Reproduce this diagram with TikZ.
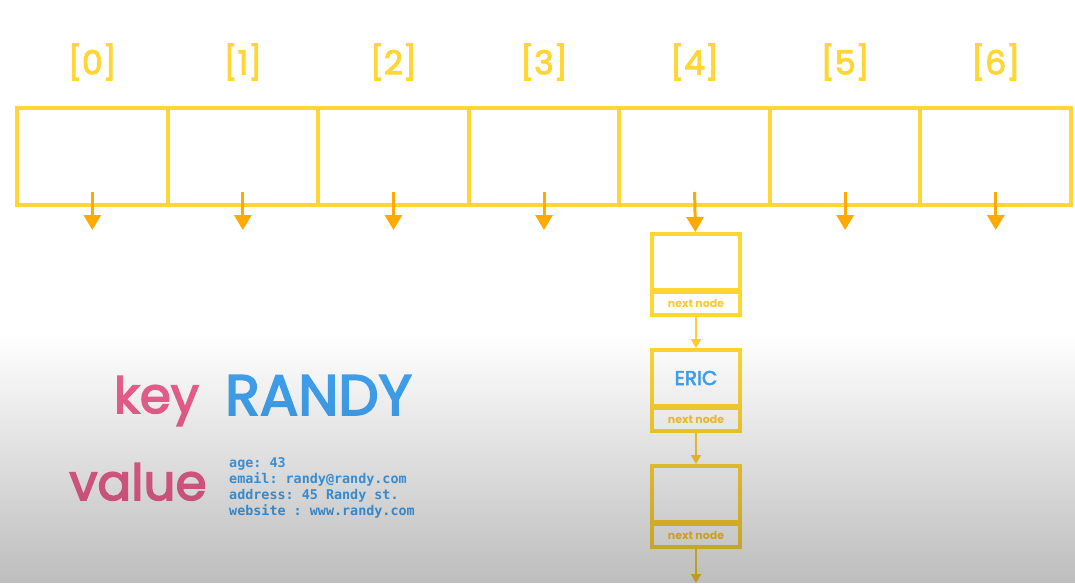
\documentclass[tikz,border=0pt]{standalone}
\usepackage{fontspec}
\setmainfont{Poppins}
\setmonofont{DejaVu Sans Mono}
\newfontfamily\roundfont{Poppins}[FakeBold=3]
\usepackage{tikz}
\usetikzlibrary{positioning}
\usetikzlibrary{arrows.meta}
\usetikzlibrary{fadings}
\definecolor{slot_yellow}{HTML}{FFD633}
\definecolor{ptr_orange}{HTML}{FFAA00}
\definecolor{key_pink}{HTML}{F06292}
\definecolor{key_blue}{HTML}{42A5F5}
\tikzset{my_table/.style={x=1pt,y=-1pt}}
\tikzset{my_slot/.style={draw=slot_yellow, line width=4pt, minimum width=150.57pt, minimum height=97pt, inner sep=0pt}}
\tikzset{my_index/.style={text=slot_yellow, font=\roundfont\fontsize{33}{33}\selectfont, inner sep=0pt}}
\tikzset{my_pointer/.style={draw=ptr_orange, line width=3pt, -{Triangle[width=17pt,length=15pt]}}}
\tikzset{my_data/.style={draw=slot_yellow, line width=4pt, minimum width=88pt, minimum height=56pt, inner sep=0pt}}
\tikzset{my_next/.style={draw=slot_yellow, line width=4pt, minimum width=88pt, minimum height=23pt, inner sep=0pt, text=slot_yellow!85!orange, font=\bfseries\fontsize{11}{11}\selectfont}}
\tikzset{my_link/.style={draw=slot_yellow!90!orange, line width=2pt, -{Triangle[width=10pt,length=9pt]}}}
\tikzfading[name=fade down, top color=transparent!100, bottom color=transparent!0]

\begin{document}
\begin{tikzpicture}[my_table]
    \useasboundingbox (0,0) rectangle (1075,583);
    \fill[white] (0,0) rectangle (1075,583);
    %\draw[help lines, step=50] (0,0) grid (1075,583);
    \foreach \i in {0,...,6} {
        \node[my_slot] (c\i) at ({92.3+150.57*\i},156.5) {};
        \node[my_index] (l\i) at ({92.3+150.57*\i},62) {[\i]};
        \coordinate (t\i) at ({92.3+150.57*\i},230);
    }
    \foreach \i in {0,1,2,3,5,6}
        \draw[my_pointer] ([yshift=15pt]c\i.south) -- (t\i);

    \node[my_data] (d1) at (696,262) {};
    \node[my_next, below=-2pt of d1] (n1) {next node};
    \node[my_data, below=31pt of n1, text=key_blue, font=\roundfont\fontsize{20}{20}\selectfont] (d2) {ERIC};
    \node[my_next, below=-2pt of d2] (n2) {next node};
    \node[my_data, below=31pt of n2] (d3) {};
    \node[my_next, below=-2pt of d3] (n3) {next node};
    \coordinate[below=34pt of n3] (tail);

    \draw[my_pointer] ([yshift=15pt]c4.south) -- (d1);
    \draw[my_link] (n1) -- (d2);
    \draw[my_link] (n2) -- (d3);
    \draw[my_link] (n3) -- (tail);

    \node[anchor=base, inner sep=0pt, text=key_pink, font=\roundfont\fontsize{50}{50}\selectfont] (key) at (156.5,413) {key};
    \node[anchor=base west, inner sep=0pt, text=key_blue, font=\roundfont\fontsize{57}{57}\selectfont] (randy) at (225,415) {RANDY};
    \node[anchor=base, inner sep=0pt, text=key_pink, font=\roundfont\fontsize{50}{50}\selectfont] (value) at (138,500) {value};
    \node[anchor=north west, inner sep=0pt, align=left, text=key_blue, font=\ttfamily\bfseries\fontsize{13.4}{16}\selectfont] (info) at (229,457)
        {age: 43\\email: randy@randy.com\\address: 45 Randy st.\\website : www.randy.com};

    \fill[black, opacity=0.26, path fading=fade down] (0,335) rectangle (1075,583);
\end{tikzpicture}
\end{document}
